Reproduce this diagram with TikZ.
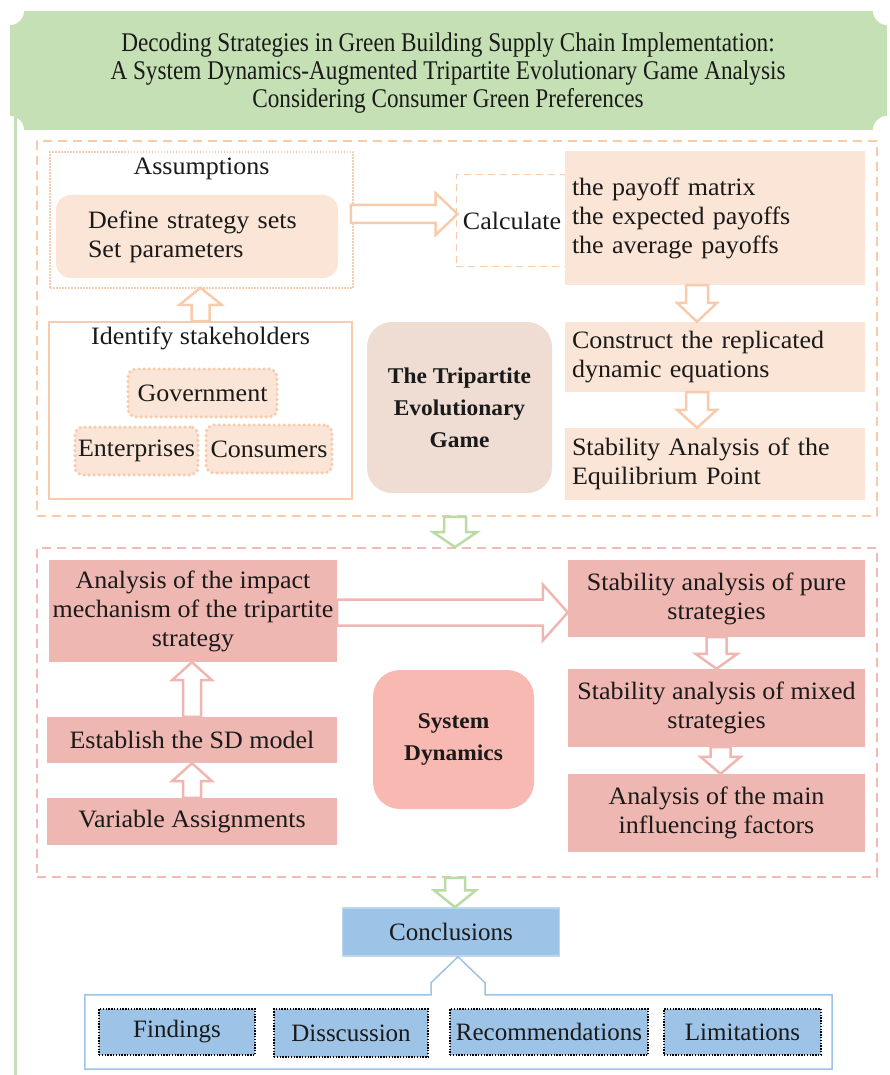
\documentclass[tikz,border=0pt]{standalone}
\usepackage{fontspec}
\setmainfont{Liberation Serif}
\newfontfamily\bodyfont[FakeStretch=1.04]{Liberation Serif}
\newfontfamily\condfont[FakeStretch=0.86]{Liberation Serif}
\usetikzlibrary{calc}
\definecolor{bannergreen}{HTML}{C5E0B4}
\definecolor{arrgreen}{HTML}{BBDBA6}
\definecolor{orline}{HTML}{F8CBAD}
\definecolor{orfill}{HTML}{FBE5D6}
\definecolor{tanfill}{HTML}{EFDCD3}
\definecolor{pinkfill}{HTML}{EFB7B2}
\definecolor{pinkline}{HTML}{F4B9B4}
\definecolor{sdfill}{HTML}{F8B9B3}
\definecolor{bluefill}{HTML}{9DC3E6}
\definecolor{blueline}{HTML}{9DC3E6}
\definecolor{bluelight}{HTML}{BDD7EE}
\definecolor{txt}{HTML}{1A1A1A}
% horizontal block arrow: style, start, tip, shaft half, head half, head length
\newcommand{\harrow}[6]{\draw[#1] let \p1=#2, \p2=#3 in
  (\x1,\y1+#4) -- (\x2-#6,\y1+#4) -- (\x2-#6,\y1+#5) -- (\x2,\y1) --
  (\x2-#6,\y1-#5) -- (\x2-#6,\y1-#4) -- (\x1,\y1-#4) -- cycle;}
% downward block arrow
\newcommand{\darrow}[6]{\draw[#1] let \p1=#2, \p2=#3 in
  (\x1-#4,\y1) -- (\x1-#4,\y2+#6) -- (\x1-#5,\y2+#6) -- (\x1,\y2) --
  (\x1+#5,\y2+#6) -- (\x1+#4,\y2+#6) -- (\x1+#4,\y1) -- cycle;}
% upward block arrow
\newcommand{\uarrow}[6]{\draw[#1] let \p1=#2, \p2=#3 in
  (\x1-#4,\y1) -- (\x1-#4,\y2-#6) -- (\x1-#5,\y2-#6) -- (\x1,\y2) --
  (\x1+#5,\y2-#6) -- (\x1+#4,\y2-#6) -- (\x1+#4,\y1) -- cycle;}
\begin{document}
\begin{tikzpicture}[x=1pt,y=-1pt,
  every node/.style={inner sep=2pt, text=txt},
  body/.style={font=\bodyfont\fontsize{25}{29}\selectfont},
  bodybold/.style={font=\bodyfont\bfseries\fontsize{22.5}{32}\selectfont},
  titletext/.style={font=\condfont\fontsize{27}{28}\selectfont, align=center},
  bottomtext/.style={font=\fontsize{25}{28}\selectfont},
  gamebox/.style={draw=orline, line width=1.8pt, dash pattern=on 9pt off 6pt},
  sdcontainer/.style={draw=pinkline, line width=1.8pt, dash pattern=on 9pt off 6pt},
  dotbox/.style={draw=orline, line width=1.5pt, dash pattern=on 1.5pt off 1.5pt},
  lightround/.style={fill=orfill, rounded corners=15pt},
  lightbox/.style={fill=orfill, inner xsep=7pt, align=left, text width=286pt},
  calcbox/.style={draw=orline, line width=1pt, dash pattern=on 7pt off 5pt},
  identbox/.style={draw=orline, line width=2pt},
  stake/.style={fill=orfill, draw=orline, line width=3.5pt, line cap=round, dash pattern=on 0pt off 5pt, rounded corners=8pt},
  tribox/.style={fill=tanfill, rounded corners=25pt},
  pinkbox/.style={fill=pinkfill, align=center},
  sdbox/.style={fill=sdfill, rounded corners=27pt},
  conclbox/.style={fill=bluefill, draw=bluelight, line width=1.5pt},
  findbox/.style={fill=bluefill, draw=black, line width=1.4pt, dash pattern=on 1.4pt off 1.4pt},
  orarrow/.style={draw=orline, fill=white, line width=2.5pt},
  pkarrow/.style={draw=pinkfill, fill=white, line width=2.5pt},
  grarrow/.style={draw=arrgreen, fill=white, line width=2.5pt}
]
\useasboundingbox (0,0) rectangle (889,1075);
\fill[white] (0,0) rectangle (889,1075);
% banner
\fill[bannergreen] (10,11) rectangle (887,130);
\foreach \cx/\cy in {10/11,887/11,10/130,887/130} \fill[white] (\cx,\cy) circle (14pt);
\draw[bannergreen, line width=3pt] (15,117) -- (15,1075);
\node[titletext] (title) at (448,73) {Decoding Strategies in Green Building Supply Chain Implementation:\\A System Dynamics-Augmented Tripartite Evolutionary Game Analysis\\Considering Consumer Green Preferences};

% ---------- game section ----------
\node[gamebox, minimum width=840pt, minimum height=375pt] (game) at (457,328.5) {};
\node[dotbox, minimum width=303pt, minimum height=136pt] (assume) at (201.5,220) {};
\node[body] (assumetitle) at (201.5,169) {Assumptions};
\node[lightround, body, align=left, text width=218pt, inner xsep=32pt, minimum height=83pt] (define) at (197,236.5) {Define strategy sets\\Set parameters};
\node[calcbox, body, minimum width=112pt, minimum height=91pt] (calc) at (512,220.5) {Calculate};
\node[lightbox, body, minimum height=134pt] (payoff) at (715,218) {the payoff matrix\\the expected payoffs\\the average payoffs};
\node[lightbox, body, minimum height=70pt] (construct) at (715,357) {Construct the replicated\\dynamic equations};
\node[lightbox, body, minimum height=72pt] (stab) at (715,464) {Stability Analysis of the\\Equilibrium Point};
\node[identbox, minimum width=303pt, minimum height=177pt] (ident) at (200.5,410.5) {};
\node[body] (identtitle) at (200.5,338) {Identify stakeholders};
\node[stake, body, minimum width=149pt, minimum height=48pt] (gov) at (202.5,393) {Government};
\node[stake, body, minimum width=123pt, minimum height=48pt] (ent) at (136.5,451) {Enterprises};
\node[stake, body, minimum width=126pt, minimum height=48pt] (cons) at (269,449) {Consumers};
\node[tribox, bodybold, align=center, minimum width=185pt, minimum height=171pt] (tri) at (459.5,407.5) {The Tripartite\\Evolutionary\\Game};

\harrow{orarrow}{($(assume.east)+(-3,-6)$)}{($(calc.west)+(2,-6.5)$)}{9pt}{21pt}{22pt}
\darrow{orarrow}{($(payoff.south)+(-18,0)$)}{($(construct.north)+(-18,0)$)}{11pt}{20pt}{19pt}
\darrow{orarrow}{($(construct.south)+(-18,0)$)}{($(stab.north)+(-18,0)$)}{11pt}{20pt}{18pt}
\uarrow{orarrow}{(ident.north)}{($(assume.south)+(0,-1)$)}{9pt}{21pt}{17pt}

% ---------- system dynamics section ----------
\node[sdcontainer, minimum width=840pt, minimum height=329pt] (sd) at (457,712.5) {};
\node[pinkbox, body, minimum width=288pt, minimum height=102pt] (impact) at (193,611) {Analysis of the impact\\mechanism of the tripartite\\strategy};
\node[pinkbox, body, minimum width=290pt, minimum height=46pt] (establish) at (192,740) {Establish the SD model};
\node[pinkbox, body, minimum width=290pt, minimum height=47pt] (variable) at (192,821.5) {Variable Assignments};
\node[pinkbox, body, minimum width=297pt, minimum height=77pt] (pure) at (716.5,598.5) {Stability analysis of pure\\strategies};
\node[pinkbox, body, minimum width=297pt, minimum height=78pt] (mixed) at (716.5,708) {Stability analysis of mixed\\strategies};
\node[pinkbox, body, minimum width=297pt, minimum height=78pt] (mainf) at (716.5,813) {Analysis of the main\\influencing factors};
\node[sdbox, bodybold, align=center, minimum width=161pt, minimum height=139pt] (sdb) at (453.5,739.5) {System\\Dynamics};

\darrow{grarrow}{($(game.south)+(-2,0)$)}{(sd.north)}{11pt}{22pt}{15pt}
\harrow{pkarrow}{($(impact.east)+(0,1.5)$)}{(pure.west)}{13pt}{28pt}{25pt}
\darrow{pkarrow}{(pure.south)}{(mixed.north)}{10pt}{21pt}{15pt}
\darrow{pkarrow}{($(mixed.south)+(4,0)$)}{(mainf.north)}{10pt}{20pt}{17pt}
\uarrow{pkarrow}{(establish.north)}{(impact.south)}{9pt}{20pt}{18pt}
\uarrow{pkarrow}{(variable.north)}{(establish.south)}{9pt}{20pt}{18pt}

% ---------- conclusions ----------
\node[conclbox, bottomtext, minimum width=217pt, minimum height=48pt] (concl) at (451,932) {Conclusions};
\darrow{grarrow}{($(sd.south)+(-2,0)$)}{($(concl.north)+(4,0)$)}{10pt}{21pt}{17pt}
\node[minimum width=747pt, minimum height=74pt, inner sep=0pt] (recs) at (458.5,1032) {};
\draw[blueline, line width=1.5pt] (recs.north west) -| ($(concl.south)+(-20,26)$) -- ($(concl.south)+(7,0)$) -- ($(concl.south)+(34,26)$) |- (recs.north east) |- (recs.south west) -- cycle;
\node[findbox, bottomtext, minimum width=156pt, minimum height=46pt] (find) at (177,1032) {Findings};
\node[findbox, bottomtext, minimum width=154pt, minimum height=48pt] (disc) at (351,1033) {Disscussion};
\node[findbox, bottomtext, minimum width=198pt, minimum height=46pt] (recom) at (549,1032) {Recommendations};
\node[findbox, bottomtext, minimum width=157pt, minimum height=46pt] (limit) at (742.5,1032) {Limitations};
\end{tikzpicture}
\end{document}
